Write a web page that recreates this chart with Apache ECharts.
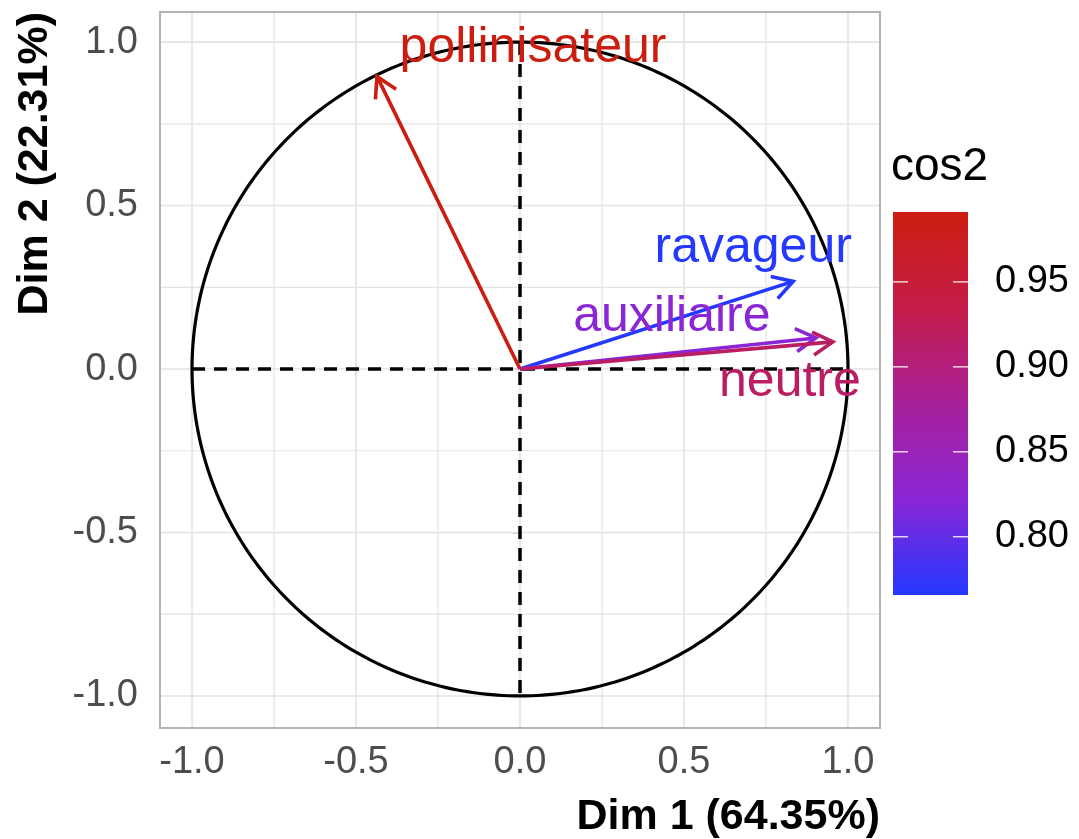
<!DOCTYPE html>
<html><head><meta charset="utf-8">
<script src="https://cdn.jsdelivr.net/npm/echarts@6/dist/echarts.min.js"></script>
<style>html,body{margin:0;padding:0;background:#fff}#chart{width:1079px;height:839px}</style>
</head><body><div id="chart"></div>
<script>
// ---- data ----
const variables = ['pollinisateur', 'ravageur', 'auxiliaire', 'neutre'];
const dim1 = [-0.436, 0.833, 0.902, 0.954];
const dim2 = [0.895, 0.268, 0.095, 0.083];
const majorTicks = [-1.0, -0.5, 0.0, 0.5, 1.0];
const minorTicks = [-0.75, -0.25, 0.25, 0.75];
const cos2Ticks = [0.80, 0.85, 0.90, 0.95];
const xTitle = 'Dim 1 (64.35%)';
const yTitle = 'Dim 2 (22.31%)';
const legendTitle = 'cos2';
const gradientColors = ['#2438ff', '#8a26d6', '#a8209a', '#c41c48', '#cc1e10'];

const cos2 = dim1.map((x, i) => x * x + dim2[i] * dim2[i]);
const cMin = Math.min(...cos2), cMax = Math.max(...cos2);

// ---- layout (px offsets of repelled labels from arrow tips) ----
const labelOffsets = [[156, -28], [-40, -33], [-144, -21], [-43, 40]];
const FONT = '"Liberation Sans", Arial, Helvetica, sans-serif';

const chart = echarts.init(document.getElementById('chart'), null, {renderer: 'canvas'});

const gridSeries = {
  type: 'custom', xAxisIndex: 0, yAxisIndex: 0, silent: true, z: 1,
  data: [[0, 0]],
  renderItem: function (params, api) {
    const cs = params.coordSys;
    const ch = [];
    const add = (v, w) => {
      const px = api.coord([v, 0])[0];
      const py = api.coord([0, v])[1];
      ch.push({type: 'line', shape: {x1: px, y1: cs.y, x2: px, y2: cs.y + cs.height}, style: {stroke: '#e3e3e3', lineWidth: w}});
      ch.push({type: 'line', shape: {x1: cs.x, y1: py, x2: cs.x + cs.width, y2: py}, style: {stroke: '#e3e3e3', lineWidth: w}});
    };
    minorTicks.forEach(v => add(v, 1.2));
    majorTicks.forEach(v => add(v, 1.6));
    ch.push({type: 'rect', shape: {x: cs.x, y: cs.y, width: cs.width, height: cs.height}, style: {stroke: '#b3b3b3', lineWidth: 2, fill: 'none'}});
    return {type: 'group', children: ch};
  }
};

const circleSeries = {
  type: 'custom', xAxisIndex: 0, yAxisIndex: 0, silent: true, z: 2,
  data: [[0, 0]],
  renderItem: function (params, api) {
    const r = majorTicks[majorTicks.length - 1];
    const pts = [];
    for (let k = 0; k <= 360; k++) {
      const a = k * Math.PI / 180;
      pts.push(api.coord([r * Math.cos(a), r * Math.sin(a)]));
    }
    const l = api.coord([-r, 0]), rr = api.coord([r, 0]);
    const t = api.coord([0, r]), b = api.coord([0, -r]);
    const dash = {stroke: '#000', lineWidth: 3.5, lineDash: [13, 9]};
    return {type: 'group', children: [
      {type: 'polyline', shape: {points: pts}, style: {stroke: '#000', lineWidth: 3.2, fill: 'none'}},
      {type: 'line', shape: {x1: l[0], y1: l[1], x2: rr[0], y2: rr[1]}, style: dash},
      {type: 'line', shape: {x1: t[0], y1: t[1], x2: b[0], y2: b[1]}, style: dash}
    ]};
  }
};

const arrowSeries = {
  type: 'custom', xAxisIndex: 0, yAxisIndex: 0, z: 3,
  data: variables.map((v, i) => [dim1[i], dim2[i], cos2[i], i]),
  encode: {x: 0, y: 1},
  renderItem: function (params, api) {
    const o = api.coord([0, 0]);
    const t = api.coord([api.value(0), api.value(1)]);
    const color = api.visual('color');
    const ang = Math.atan2(t[1] - o[1], t[0] - o[0]);
    const L = 23, A = Math.PI / 6;
    const p1 = [t[0] - L * Math.cos(ang - A), t[1] - L * Math.sin(ang - A)];
    const p2 = [t[0] - L * Math.cos(ang + A), t[1] - L * Math.sin(ang + A)];
    const idx = api.value(3);
    const off = labelOffsets[idx];
    return {type: 'group', children: [
      {type: 'line', shape: {x1: o[0], y1: o[1], x2: t[0], y2: t[1]}, style: {stroke: color, lineWidth: 3.6}},
      {type: 'polyline', shape: {points: [p1, t, p2]}, style: {stroke: color, lineWidth: 3.6, fill: 'none', lineJoin: 'miter'}},
      {type: 'text', x: t[0] + off[0], y: t[1] + off[1],
        style: {text: variables[idx], fill: color, font: '50px ' + FONT, align: 'center', verticalAlign: 'middle', textAlign: 'center', textVerticalAlign: 'middle'}}
    ]};
  }
};

const colorbarSeries = {
  type: 'custom', xAxisIndex: 1, yAxisIndex: 1, silent: true, z: 2,
  data: [[0, cMin]],
  encode: {x: 0, y: 1},
  renderItem: function (params, api) {
    const a = api.coord([0, cMax]);
    const b = api.coord([1, cMin]);
    const n = gradientColors.length;
    const stops = gradientColors.slice().reverse().map((c, i) => ({offset: i / (n - 1), color: c}));
    const ch = [{type: 'rect', shape: {x: a[0], y: a[1], width: b[0] - a[0], height: b[1] - a[1]},
      style: {fill: new echarts.graphic.LinearGradient(0, 0, 0, 1, stops)}}];
    const tl = 15;
    cos2Ticks.forEach(v => {
      const y = api.coord([0, v])[1];
      const tickStyle = {stroke: 'rgba(255,255,255,0.8)', lineWidth: 1.5};
      ch.push({type: 'line', shape: {x1: a[0], y1: y, x2: a[0] + tl, y2: y}, style: tickStyle});
      ch.push({type: 'line', shape: {x1: b[0] - tl, y1: y, x2: b[0], y2: y}, style: tickStyle});
    });
    return {type: 'group', children: ch};
  }
};

const fmt1 = v => v.toFixed(1);

const option = {
  animation: false,
  backgroundColor: '#fff',
  grid: [
    {left: 160, top: 12, width: 720, height: 716, show: false},
    {left: 893, top: 212, width: 75, height: 383, show: false}
  ],
  xAxis: [
    {gridIndex: 0, type: 'value', min: -1.0976, max: 1.0976,
      axisLine: {show: false}, splitLine: {show: false},
      axisTick: {show: true, length: 7, lineStyle: {color: '#b3b3b3', width: 1.5}, customValues: majorTicks},
      axisLabel: {customValues: majorTicks, formatter: fmt1, fontSize: 38, fontFamily: FONT, color: '#4d4d4d', margin: 16}},
    {gridIndex: 1, type: 'value', min: 0, max: 1, show: false}
  ],
  yAxis: [
    {gridIndex: 0, type: 'value', min: -1.098, max: 1.092,
      axisLine: {show: false}, splitLine: {show: false},
      axisTick: {show: true, length: 7, lineStyle: {color: '#b3b3b3', width: 1.5}, customValues: majorTicks},
      axisLabel: {customValues: majorTicks, formatter: fmt1, fontSize: 38, fontFamily: FONT, color: '#4d4d4d', margin: 22}},
    {gridIndex: 1, type: 'value', min: cMin, max: cMax, position: 'right',
      axisLine: {show: false}, splitLine: {show: false}, axisTick: {show: false},
      axisLabel: {customValues: cos2Ticks, formatter: v => v.toFixed(2), fontSize: 38, fontFamily: FONT, color: '#000', margin: 27}}
  ],
  visualMap: {
    type: 'continuous', show: false, seriesIndex: 2, dimension: 2,
    min: cMin, max: cMax, inRange: {color: gradientColors}
  },
  graphic: [
    {type: 'text', x: 880, y: 817, style: {text: xTitle, font: 'bold 43px ' + FONT, fill: '#000', align: 'right', verticalAlign: 'middle', textAlign: 'right', textVerticalAlign: 'middle'}},
    {type: 'text', x: 35, y: 12, rotation: Math.PI / 2, style: {text: yTitle, font: 'bold 43px ' + FONT, fill: '#000', align: 'right', verticalAlign: 'middle', textAlign: 'right', textVerticalAlign: 'middle'}},
    {type: 'text', x: 891, y: 167, style: {text: legendTitle, font: '46px ' + FONT, fill: '#000', align: 'left', verticalAlign: 'middle', textAlign: 'left', textVerticalAlign: 'middle'}}
  ],
  series: [gridSeries, circleSeries, arrowSeries, colorbarSeries]
};
chart.setOption(option);
</script>
</body></html>
